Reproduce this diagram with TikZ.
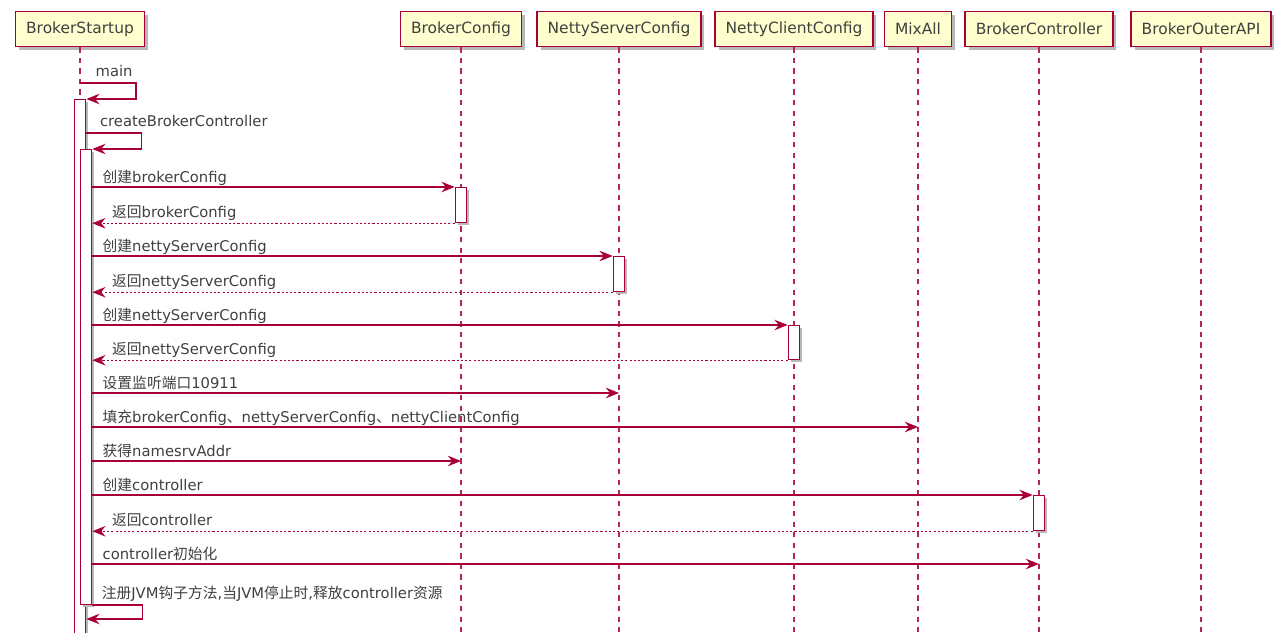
\documentclass[tikz,border=0pt]{standalone}
\usepackage{fontspec}
\setmainfont{DejaVu Sans}
\newfontfamily\cjk{Noto Sans CJK SC}
\usetikzlibrary{arrows.meta,positioning,calc}
\definecolor{umlred}{HTML}{A80036}
\definecolor{umlfill}{HTML}{FEFECE}

\begin{document}
\begin{tikzpicture}[x=0.02cm,y=-0.02cm,
  every node/.style={font=\fontsize{8.4}{10}\selectfont},
  shade box/.style={preaction={draw=none,fill=black!28,transform canvas={xshift=#1,yshift=-#1}}},
  part/.style={draw=umlred,fill=umlfill,line width=0.9pt,minimum height=0.7cm,inner xsep=6pt,
    font=\fontsize{8.8}{10}\selectfont,text=black!75,shade box=2pt},
  life/.style={umlred!85,line width=0.6pt,dash pattern=on 3pt off 3pt},
  bar/.style={draw=umlred,fill=white,line width=0.7pt,inner sep=0pt,minimum width=0.23cm,anchor=north,
    shade box=1.5pt},
  msg/.style={umlred,line width=0.8pt,-{Stealth[length=7.5pt,width=6pt,inset=2.5pt]}},
  ret/.style={msg,line width=0.6pt,dash pattern=on 1.2pt off 1.2pt},
  lbl/.style={anchor=base west,inner sep=0pt,text=black!75}
]
\path[use as bounding box,fill=white] (0,0) rectangle (1280,632);

% participants
\node[part] (startup) at (80,29) {BrokerStartup};
\node[part] (bcfg) at (461,29) {BrokerConfig};
\node[part] (nsc) at (619,29) {NettyServerConfig};
\node[part] (ncc) at (794,29) {NettyClientConfig};
\node[part] (mixall) at (918,29) {MixAll};
\node[part] (bctl) at (1039,29) {BrokerController};
\node[part] (outer) at (1201,29) {BrokerOuterAPI};

\draw[life] (startup.south) -- (startup |- 0,632);
\draw[life] (bcfg.south) -- (bcfg |- 0,632);
\draw[life] (nsc.south) -- (nsc |- 0,632);
\draw[life] (ncc.south) -- (ncc |- 0,632);
\draw[life] (mixall.south) -- (mixall |- 0,632);
\draw[life] (bctl.south) -- (bctl |- 0,632);
\draw[life] (outer.south) -- (outer |- 0,632);

% activations
\node[bar,minimum height=11.2cm] (act1) at (startup |- 0,99) {};
\node[bar,minimum height=9.1cm,xshift=0.12cm] (act2) at (startup |- 0,149) {};
\node[bar,minimum height=0.7cm] (cfgbar) at (bcfg |- 0,187) {};
\node[bar,minimum height=0.7cm] (nscbar) at (nsc |- 0,256) {};
\node[bar,minimum height=0.68cm] (nccbar) at (ncc |- 0,325) {};
\node[bar,minimum height=0.7cm] (ctlbar) at (bctl |- 0,495) {};

% messages
\draw[msg] (startup |- 0,83) node[lbl,xshift=8.5pt,yshift=3.5pt] (t0) {main}
  -- ++(56,0) |- (act1.north east);
\draw[msg] (act1.east |- 0,133) node[lbl,xshift=7.4pt,yshift=3.5pt] (t1) {createBrokerController}
  -- ++(55,0) |- (act2.north east);
\draw[msg] (act2.east |- cfgbar.north) -- node[lbl,pos=0,xshift=5.5pt,yshift=2.5pt] (t2)
  {{\cjk 创建}brokerConfig} (cfgbar.north west);
\draw[ret] (cfgbar.south west) -- node[lbl,pos=1,xshift=11pt,yshift=3pt] (t3)
  {{\cjk 返回}brokerConfig} (act2.east |- cfgbar.south);
\draw[msg] (act2.east |- nscbar.north) -- node[lbl,pos=0,xshift=5.5pt,yshift=2.5pt] (t4)
  {{\cjk 创建}nettyServerConfig} (nscbar.north west);
\draw[ret] (nscbar.south west) -- node[lbl,pos=1,xshift=11pt,yshift=3pt] (t5)
  {{\cjk 返回}nettyServerConfig} (act2.east |- nscbar.south);
\draw[msg] (act2.east |- nccbar.north) -- node[lbl,pos=0,xshift=5.5pt,yshift=2.5pt] (t6)
  {{\cjk 创建}nettyServerConfig} (nccbar.north west);
\draw[ret] (nccbar.south west) -- node[lbl,pos=1,xshift=11pt,yshift=3pt] (t7)
  {{\cjk 返回}nettyServerConfig} (act2.east |- nccbar.south);
\draw[msg] (act2.east |- 0,393) -- node[lbl,pos=0,xshift=5.5pt,yshift=2.5pt] (t8)
  {{\cjk 设置监听端口}10911} (nsc |- 0,393);
\draw[msg] (act2.east |- 0,427) -- node[lbl,pos=0,xshift=5.5pt,yshift=2.5pt] (t9)
  {{\cjk 填充}brokerConfig{\cjk 、}nettyServerConfig{\cjk 、}nettyClientConfig} (mixall |- 0,427);
\draw[msg] (act2.east |- 0,461) -- node[lbl,pos=0,xshift=5.5pt,yshift=2.5pt] (t10)
  {{\cjk 获得}namesrvAddr} (bcfg |- 0,461);
\draw[msg] (act2.east |- ctlbar.north) -- node[lbl,pos=0,xshift=5.5pt,yshift=2.5pt] (t11)
  {{\cjk 创建}controller} (ctlbar.north west);
\draw[ret] (ctlbar.south west) -- node[lbl,pos=1,xshift=11pt,yshift=3pt] (t12)
  {{\cjk 返回}controller} (act2.east |- ctlbar.south);
\draw[msg] (act2.east |- 0,564) -- node[lbl,pos=0,xshift=5.5pt,yshift=2.5pt] (t13)
  {controller{\cjk 初始化}} (bctl |- 0,564);
\draw[msg] (act2.south east) node[lbl,xshift=5pt,yshift=4pt] (t14)
  {{\cjk 注册}JVM{\cjk 钩子方法},{\cjk 当}JVM{\cjk 停止时},{\cjk 释放}controller{\cjk 资源}}
  -- ++(50,0) |- (act1.east |- 0,619);
\end{tikzpicture}
\end{document}
